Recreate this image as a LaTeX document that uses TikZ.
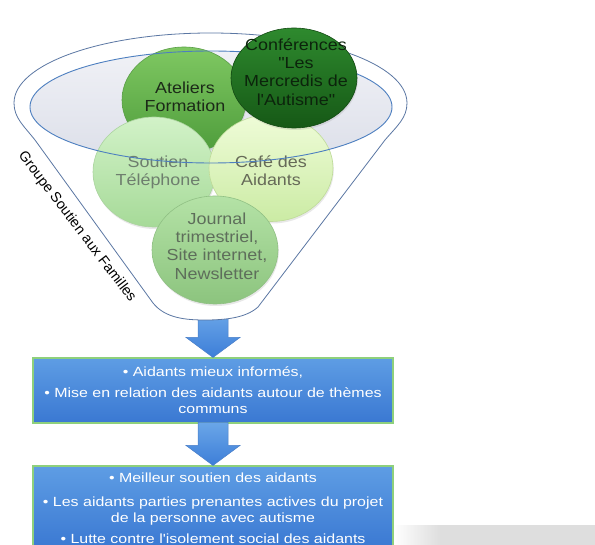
\documentclass[tikz,border=0pt]{standalone}
\usepackage{fontspec}
\setmainfont{Liberation Sans}
\newfontfamily\circfont[FakeStretch=1.12]{Liberation Sans}
\newfontfamily\boxfont[FakeStretch=1.2]{Liberation Sans}
\usetikzlibrary{shapes.geometric,shadows}
\definecolor{ateT}{HTML}{7FC862}
\definecolor{ateB}{HTML}{4E9C3B}
\definecolor{ateD}{HTML}{5A9E48}
\definecolor{ateX}{HTML}{1C2A18}
\definecolor{confT}{HTML}{2E8A2E}
\definecolor{confB}{HTML}{165816}
\definecolor{confD}{HTML}{134A13}
\definecolor{confX}{HTML}{0C240C}
\definecolor{souT}{HTML}{D2F2C8}
\definecolor{souB}{HTML}{A6DA98}
\definecolor{souD}{HTML}{ABD49F}
\definecolor{souX}{HTML}{6E7E6E}
\definecolor{cafT}{HTML}{EFFCD8}
\definecolor{cafB}{HTML}{CBEBA4}
\definecolor{cafD}{HTML}{BEDB98}
\definecolor{cafX}{HTML}{666A58}
\definecolor{jouT}{HTML}{B4E2A6}
\definecolor{jouB}{HTML}{8CC47E}
\definecolor{jouD}{HTML}{90C084}
\definecolor{jouX}{HTML}{5E6E5B}
\definecolor{innT}{HTML}{F0F1F6}
\definecolor{innB}{HTML}{DCDFE9}
\definecolor{innD}{HTML}{4D7FC0}
\definecolor{funD}{HTML}{5B77A3}
\definecolor{boxT}{HTML}{5E9DE4}
\definecolor{boxB}{HTML}{3A78D2}
\definecolor{boxD}{HTML}{8ED07C}
\definecolor{arrT}{HTML}{6AA6E8}
\definecolor{arrB}{HTML}{3D7ED8}
\definecolor{arrD}{HTML}{4A7FC8}
\begin{document}
\begin{tikzpicture}[x=1pt,y=-1pt,
  bubble/.style={ellipse, inner sep=0pt, line width=0.6pt,
    drop shadow={opacity=0.18, shadow xshift=0.8pt, shadow yshift=-2pt}},
  bubtext/.style={align=center, inner sep=0pt, font=\circfont\fontsize{16}{18.2}\selectfont},
  bluebox/.style={rectangle, draw=boxD, line width=1.1pt, top color=boxT, bottom color=boxB,
    text=white, align=center, inner sep=0pt, minimum width=360},
  blockarrow/.style={draw=arrD, line width=0.5pt, top color=arrT, bottom color=arrB},
  funnel/.style={draw=funD, line width=0.8pt, fill=white},
  grouplabel/.style={font=\fontsize{14.3}{16}\selectfont, text=black, inner sep=0pt}
]
\useasboundingbox (0,0) rectangle (595,545);
% grey band at bottom right
\fill[left color=white, right color=gray!26] (393,525) rectangle (440,545);
\fill[gray!26] (440,525) rectangle (595,545);
% result boxes
\node[bluebox, minimum height=65, font=\boxfont\fontsize{13.3}{16}\selectfont] (box1) at (213,390.5)
  {• Aidants mieux informés,\\[5pt]• Mise en relation des aidants autour de thèmes\\communs};
\node[bluebox, minimum height=84, font=\boxfont\fontsize{13.3}{15.5}\selectfont] (box2) at (213,508)
  {• Meilleur soutien des aidants\\[8.5pt]• Les aidants parties prenantes actives du projet\\de la personne avec autisme\\[5.5pt]• Lutte contre l'isolement social des aidants};
% block arrows
\coordinate (fbot) at (213,318);
\path[blockarrow] (box1.north) -- ++(27,-20) -- ++(-12,0) -- ++(0,-26) -- ++(-30,0) -- ++(0,26) -- ++(-12,0) -- cycle;
\path[blockarrow] (box2.north) -- ++(27,-20) -- ++(-12,0) -- ++(0,-23) -- ++(-30,0) -- ++(0,23) -- ++(-12,0) -- cycle;
% funnel
\path[funnel] (14,103) .. controls (14,118) and (24,126) .. (35,140) -- (153,303)
  .. controls (165,318) and (185,320) .. (205,320) .. controls (225,320) and (246,318) .. (258,307)
  -- (385,140) .. controls (397,126) and (407,118) .. (407,103)
  .. controls (407,64) and (319,33) .. (210.5,33) .. controls (102,33) and (14,64) .. (14,103) -- cycle;
% inner ellipse fill
\path[top color=innT, bottom color=innB] (211,107) ellipse [x radius=181pt, y radius=56pt];
% bubbles
\node[bubble, minimum width=124, minimum height=106, top color=ateT, bottom color=ateB, draw=ateD] (ate) at (184,100) {};
\node[bubtext, text=ateX] (ateL) at (185,97) {Ateliers\\Formation};
\node[bubble, minimum width=122, minimum height=110, top color=souT, bottom color=souB, draw=souD] (sou) at (154,172) {};
\node[bubtext, text=souX] (souL) at (158,172) {Soutien\\Téléphone};
\node[bubble, minimum width=124, minimum height=107, top color=cafT, bottom color=cafB, draw=cafD] (caf) at (271,168) {};
\node[bubtext, text=cafX] (cafL) at (271,171) {Café des\\Aidants};
\node[bubble, minimum width=126, minimum height=108, top color=jouT, bottom color=jouB, draw=jouD] (jou) at (215,250) {};
\node[bubtext, text=jouX] (jouL) at (217,246) {Journal\\trimestriel,\\Site internet,\\Newsletter};
% inner ellipse outline
\draw[innD, line width=0.9pt] (211,107) ellipse [x radius=181pt, y radius=56pt];
% top bubble
\node[bubble, minimum width=126, minimum height=100, top color=confT, bottom color=confB, draw=confD] (conf) at (294,78) {};
\node[bubtext, text=confX] (confL) at (296,72) {Conférences\\"Les\\Mercredis de\\l'Autisme"};
% side label
\node[grouplabel, rotate=-52.7] (grp) at (77,227) {Groupe Soutien aux Familles};
\end{tikzpicture}
\end{document}
